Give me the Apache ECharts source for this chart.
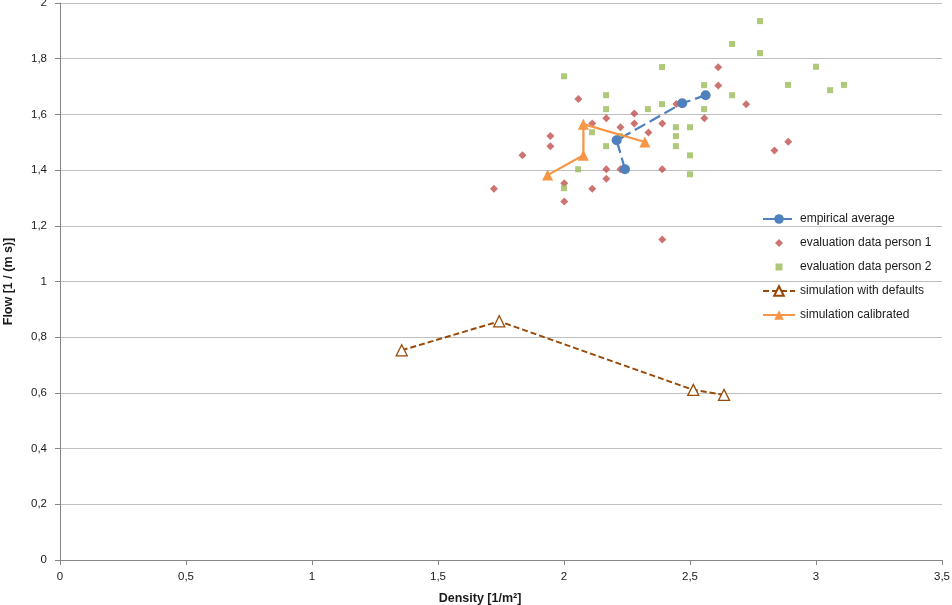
<!DOCTYPE html>
<html>
<head>
<meta charset="utf-8">
<script src="https://cdn.jsdelivr.net/npm/echarts@6/dist/echarts.min.js"></script>
<style>
  html, body { margin: 0; padding: 0; background: #fff; }
  #chart { width: 952px; height: 605px; }
</style>
</head>
<body>
<div id="chart"></div>
<script>
// values (density, flow)
var avgX = [2.242, 2.209, 2.469, 2.562];
var avgY = [1.403, 1.507, 1.640, 1.669];

var p1X = [1.722, 1.835, 1.946, 1.946, 2.001, 2.001, 2.057, 2.112, 2.112, 2.168, 2.168, 2.168, 2.224, 2.224,
           2.279, 2.279, 2.335, 2.390, 2.390, 2.390, 2.446, 2.557, 2.612, 2.612, 2.723, 2.835, 2.890];
var p1Y = [1.333, 1.453, 1.522, 1.486, 1.353, 1.287, 1.655, 1.567, 1.333, 1.586, 1.403, 1.369, 1.554, 1.403,
           1.603, 1.567, 1.535, 1.567, 1.403, 1.151, 1.637, 1.586, 1.769, 1.704, 1.636, 1.470, 1.502];

var p2X = [2.000, 2.000, 2.056, 2.111, 2.167, 2.167, 2.167, 2.222, 2.333, 2.389, 2.389, 2.444, 2.444, 2.444,
           2.500, 2.500, 2.500, 2.556, 2.556, 2.667, 2.667, 2.778, 2.778, 2.889, 3.000, 3.056, 3.111];
var p2Y = [1.737, 1.335, 1.403, 1.536, 1.669, 1.619, 1.486, 1.522, 1.619, 1.770, 1.637, 1.554, 1.522, 1.486,
           1.554, 1.453, 1.385, 1.705, 1.619, 1.853, 1.669, 1.935, 1.820, 1.706, 1.771, 1.687, 1.706];

var defX = [1.356, 1.743, 2.513, 2.635];
var defY = [0.753, 0.857, 0.611, 0.593];

var calX = [1.935, 2.077, 2.077, 2.321];
var calY = [1.382, 1.453, 1.565, 1.501];

var seriesNames = ["empirical average", "evaluation data person 1", "evaluation data person 2",
                   "simulation with defaults", "simulation calibrated"];

function pairs(xs, ys) {
    var res = [];
    for (var i = 0; i < xs.length; i++) {
        res.push([xs[i], ys[i]]);
    }
    return res;
}

function commaNum(v) {
    return String(Math.round(v * 10) / 10).replace('.', ',');
}

// small legend markers: the M corners keep the box 32x12 so the shape is not stretched
var boxCorners = 'M0 0 M32 0 M32 12 M0 12 ';
var diamondIcon = 'path://' + boxCorners + 'M16 2 L20 6 L16 10 L12 6 Z';
var squareIcon = 'path://' + boxCorners + 'M12.5 2.5 L19.5 2.5 L19.5 9.5 L12.5 9.5 Z';

var font = "Liberation Sans";
var myChart = echarts.init(document.getElementById("chart"));
var option = {
    animation: false,
    textStyle: { fontFamily: font },
    grid: { left: 60, right: 10, top: 3, bottom: 45, outerBoundsMode: 'none', containLabel: false },
    legend: {
        orient: 'vertical',
        left: 757,
        top: 208,
        itemWidth: 32,
        itemHeight: 12,
        itemGap: 12,
        textStyle: { fontFamily: font, fontSize: 12, color: '#1a1a1a' },
        data: [
            { name: seriesNames[0] },
            { name: seriesNames[1], icon: diamondIcon },
            { name: seriesNames[2], icon: squareIcon },
            { name: seriesNames[3] },
            { name: seriesNames[4] }
        ]
    },
    xAxis: {
        type: 'value',
        min: 0, max: 3.5, interval: 0.5,
        name: 'Density [1/m²]',
        nameLocation: 'middle',
        nameGap: 32,
        nameTextStyle: { fontFamily: font, fontSize: 12.5, fontWeight: 'bold', color: '#1a1a1a', padding: [0, 42, 0, 0] },
        axisLine: { lineStyle: { color: '#868686' } },
        axisTick: { show: true, length: 5, lineStyle: { color: '#868686' } },
        axisLabel: { fontSize: 11.5, color: '#1a1a1a', margin: 11, formatter: commaNum },
        splitLine: { show: false }
    },
    yAxis: {
        type: 'value',
        min: 0, max: 2, interval: 0.2,
        name: 'Flow [1 / (m s)]',
        nameLocation: 'middle',
        nameGap: 45,
        nameTextStyle: { fontFamily: font, fontSize: 12.5, fontWeight: 'bold', color: '#1a1a1a' },
        axisLine: { show: true, lineStyle: { color: '#868686' } },
        axisTick: { show: true, length: 5, lineStyle: { color: '#868686' } },
        axisLabel: { fontSize: 11.5, color: '#1a1a1a', margin: 13, formatter: commaNum },
        splitLine: { show: true, lineStyle: { color: '#bfbfbf', width: 1 } }
    },
    series: [
        {
            name: seriesNames[1],
            type: 'scatter',
            symbol: 'diamond',
            symbolSize: 8,
            itemStyle: { color: '#C0504D' },
            data: pairs(p1X, p1Y),
            z: 2
        },
        {
            name: seriesNames[2],
            type: 'scatter',
            symbol: 'rect',
            symbolSize: 6,
            itemStyle: { color: '#9BBB59' },
            data: pairs(p2X, p2Y),
            z: 2
        },
        {
            name: seriesNames[0],
            type: 'line',
            symbol: 'circle',
            symbolSize: 10,
            showAllSymbol: true,
            itemStyle: { color: '#4F81BD' },
            lineStyle: { color: '#4F81BD', width: 2.25, type: [12, 5] },
            data: pairs(avgX, avgY),
            z: 3
        },
        {
            name: seriesNames[3],
            type: 'line',
            symbol: 'triangle',
            symbolSize: 11,
            showAllSymbol: true,
            itemStyle: { color: '#fff', borderColor: '#984807', borderWidth: 1.3 },
            lineStyle: { color: '#984807', width: 2, type: [6, 3] },
            data: pairs(defX, defY),
            z: 3
        },
        {
            name: seriesNames[4],
            type: 'line',
            symbol: 'triangle',
            symbolSize: 11,
            showAllSymbol: true,
            itemStyle: { color: '#F79646' },
            lineStyle: { color: '#F79646', width: 2.25 },
            data: pairs(calX, calY),
            z: 3
        }
    ]
};
myChart.setOption(option);
</script>
</body>
</html>
